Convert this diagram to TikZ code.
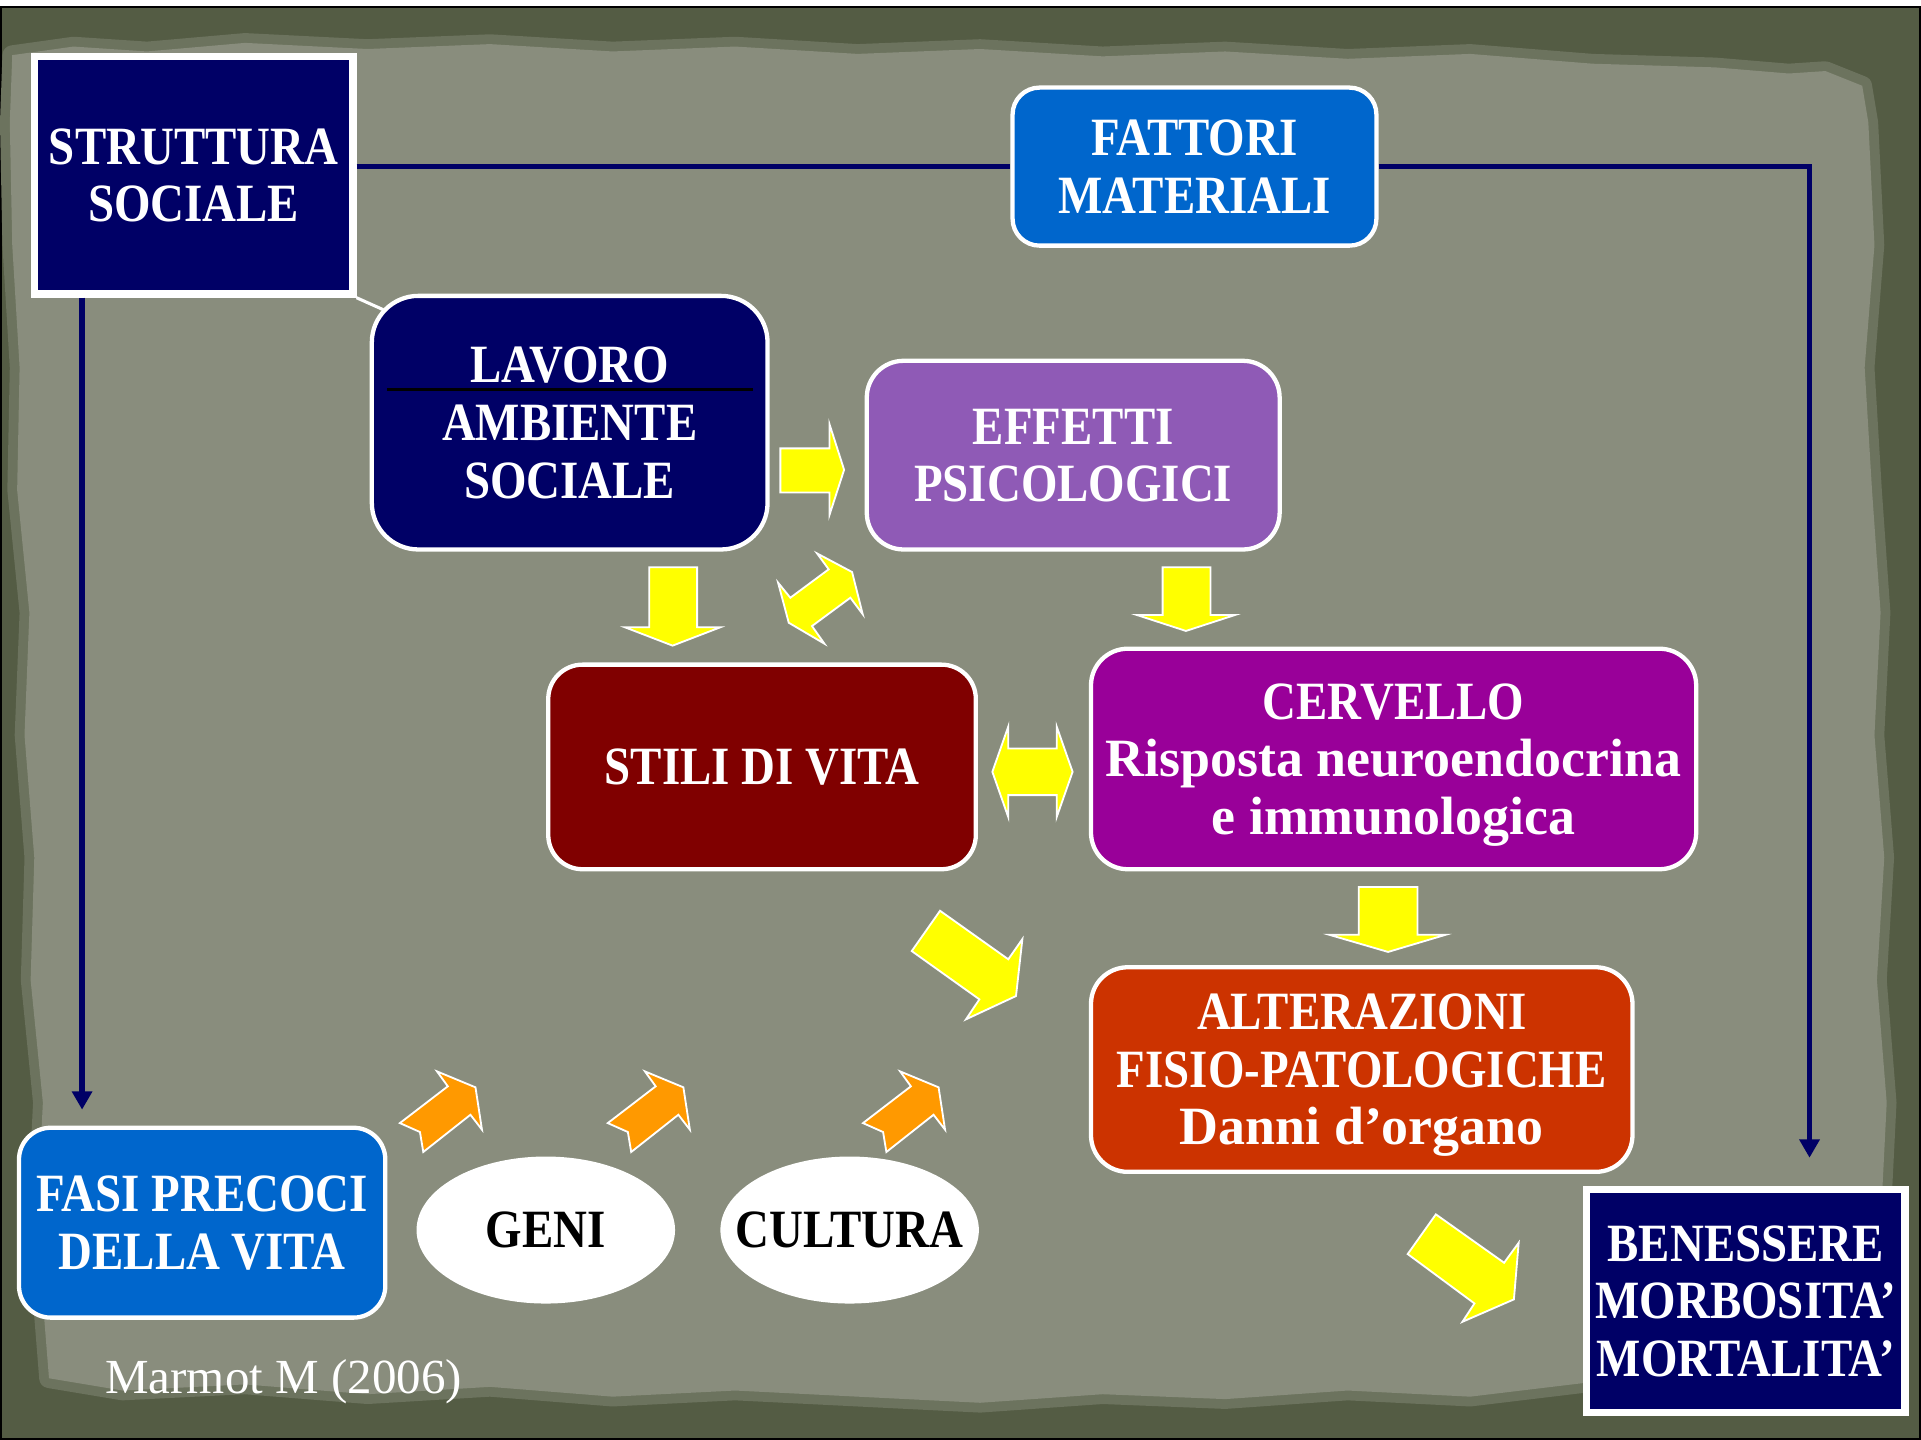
\documentclass[tikz,border=0pt]{standalone}
\usepackage{fontspec}
\setmainfont{Liberation Serif}
\newfontfamily\capfont{Liberation Serif}[FakeStretch=0.87]
\usetikzlibrary{calc,arrows.meta,shapes.geometric}
\definecolor{navy}{RGB}{0,0,102}
\definecolor{bblue}{RGB}{0,102,204}
\definecolor{lpurple}{RGB}{143,90,182}
\definecolor{maroonc}{RGB}{128,0,0}
\definecolor{magc}{RGB}{153,0,153}
\definecolor{rust}{RGB}{204,51,0}
\definecolor{ayellow}{RGB}{255,255,0}
\definecolor{aorange}{RGB}{255,153,0}
\definecolor{paperc}{RGB}{137,141,125}
\definecolor{framec}{RGB}{84,92,68}
\definecolor{bandc}{RGB}{108,115,94}
\begin{document}
\begin{tikzpicture}[x=1pt,y=-1pt,
  txt/.style={text=white, font=\fontsize{44}{47}\selectfont\capfont\bfseries, align=center, inner sep=0pt, text depth=0pt},
  rbox/.style={txt, draw=white, line width=3.5pt, rounded corners=#1},
  rbox/.default=30pt,
  sbox/.style={txt, draw=white, line width=6pt, fill=navy},
  oval/.style={txt, ellipse, fill=white, text=black, minimum width=211pt, minimum height=120pt},
  conn/.style={draw=navy, line width=4.5pt, -{Triangle[width=16pt,length=15pt]}},
  yarr/.style={fill=ayellow, draw=white, line width=1.5pt, line join=miter},
  oarr/.style={fill=aorange, draw=white, line width=1.5pt, line join=miter}]
% background
\useasboundingbox (0,0) rectangle (1568,1175);
\fill[white] (0,0) rectangle (1568,1175);
\fill[framec, draw=black, line width=1.5pt] (0.75,5.5) rectangle (1567.25,1174.25);
\fill[paperc, preaction={draw=bandc, line width=16pt, line join=round}]
  (10,45) -- (60,38) -- (120,42) -- (200,35) -- (300,40) -- (400,36) -- (500,42) -- (600,38)
  -- (700,44) -- (800,40) -- (900,46) -- (1000,42) -- (1100,48) -- (1200,44) -- (1300,52)
  -- (1400,55) -- (1460,60) -- (1490,58) -- (1520,70)
  -- (1525,100) -- (1530,200) -- (1522,300) -- (1528,400) -- (1535,500) -- (1530,600)
  -- (1538,700) -- (1532,800) -- (1540,900) -- (1535,1000) -- (1545,1080) -- (1540,1120)
  -- (1480,1125) -- (1400,1130) -- (1300,1128) -- (1200,1140) -- (1100,1135) -- (1000,1142)
  -- (900,1138) -- (800,1145) -- (700,1140) -- (600,1135) -- (500,1140) -- (400,1132)
  -- (300,1138) -- (200,1130) -- (100,1135) -- (40,1125)
  -- (30,1000) -- (35,900) -- (25,800) -- (28,700) -- (20,600) -- (24,500) -- (14,400)
  -- (16,300) -- (10,200) -- (8,100) -- cycle;
% nodes
\node[sbox, minimum width=260pt, minimum height=194pt] (S) at (158,143) {STRUTTURA\\SOCIALE};
\node[rbox=22pt, fill=bblue, minimum width=297pt, minimum height=129pt] (F) at (975,136) {FATTORI\\MATERIALI};
\node[rbox=38pt, fill=navy, minimum width=323pt, minimum height=207pt] (L) at (465,345) {LAVORO\\AMBIENTE\\SOCIALE};
\node[rbox=30pt, fill=lpurple, minimum width=337pt, minimum height=154pt] (E) at (876,371.5) {EFFETTI\\PSICOLOGICI};
\node[rbox=28pt, fill=maroonc, minimum width=349pt, minimum height=167pt] (V) at (622,626) {STILI DI VITA};
\node[rbox=30pt, fill=magc, minimum width=494pt, minimum height=180pt] (C) at (1137.5,619.5) {CERVELLO\\{\rmfamily Risposta neuroendocrina}\\{\rmfamily e immunologica}};
\node[rbox=30pt, fill=rust, minimum width=442pt, minimum height=167pt] (A) at (1111.5,873) {ALTERAZIONI\\FISIO-PATOLOGICHE\\{\rmfamily Danni d’organo}};
\node[rbox=26pt, fill=bblue, minimum width=299pt, minimum height=155pt] (P) at (165,998) {FASI PRECOCI\\DELLA VITA};
\node[oval] (G) at (445.5,1004) {\makebox[0pt]{GENI}};
\node[oval] (U) at (693.5,1004) {\makebox[0pt]{CULTURA}};
\node[sbox, minimum width=260pt, minimum height=182pt] (B) at (1425,1062) {BENESSERE\\MORBOSITA’\\MORTALITA’};
\node[text=white, font=\fontsize{40}{44}\selectfont, inner sep=0pt] (M) at (231.5,1128) {Marmot M (2006)};
% rule in LAVORO box
\draw[black, line width=3pt] ($(L.center)+(-149,-27)$) -- ($(L.center)+(150,-27)$);
% small white connector
\draw[white, line width=2.5pt] (S.south east) -- ($(L.north west)+(11,13)$);
% navy connectors
\coordinate (Bin) at ($(B.north)+(52,-23)$);
\coordinate (Pin) at ($(P.north)+(-98,-13)$);
\draw[draw=navy, line width=4.5pt] (S.east |- F.west) -- (F.west);
\draw[conn] (F.east) -| (Bin);
\draw[conn] (S.south -| Pin) -- (Pin);
% yellow block arrows
\fill[yarr] (637,366) -- (677,366) -- (677,346) -- (689,383.5) -- (677,420.5) -- (677,402) -- (637,402) -- cycle;
\fill[yarr] (530,463) -- (569,463) -- (569,512) -- (588,512) -- (549,527) -- (510,512) -- (530,512) -- cycle;
\fill[yarr] (949,463) -- (988,463) -- (988,502) -- (1008,502) -- (968,515) -- (928,502) -- (949,502) -- cycle;
\fill[yarr] (1109,724) -- (1157,724) -- (1157,763) -- (1180,763) -- (1133,777) -- (1085,763) -- (1109,763) -- cycle;
\fill[yarr] (810,630) -- (823,593) -- (823,611) -- (862.5,611) -- (862.5,593) -- (875.5,630)
  -- (862.5,667) -- (862.5,649) -- (823,649) -- (823,667) -- cycle;
\fill[yarr] (635.1,475.6) -- (645.1,487.9) -- (676.4,464.7) -- (666.9,451.7) -- (695.5,466.9)
  -- (704.2,501.4) -- (694.1,487.9) -- (662.8,511.0) -- (672.9,525.4) -- (643.8,508.3) -- cycle;
\fill[yarr] (767.3,743.4) -- (823,783) -- (834.5,766.5) -- (829.3,813) -- (788.5,832) -- (799.4,815.7) -- (744.2,776.3) -- cycle;
\fill[yarr] (1172,991.2) -- (1227.7,1030.7) -- (1239.6,1014.4) -- (1235.7,1060.6) -- (1193.7,1078.9) -- (1203.5,1063.9) -- (1149,1023.6) -- cycle;
% orange arrows
\foreach \dx in {0,169.7,378}{
  \fill[oarr, shift={(\dx,0)}] (356.7,874.5) -- (388.1,887.5) -- (393.4,922.1) -- (384.0,909.9)
    -- (345.5,940.3) -- (342.8,924.0) -- (326.4,916.7) -- (365.5,886.7) -- cycle;
}
\end{tikzpicture}
\end{document}
